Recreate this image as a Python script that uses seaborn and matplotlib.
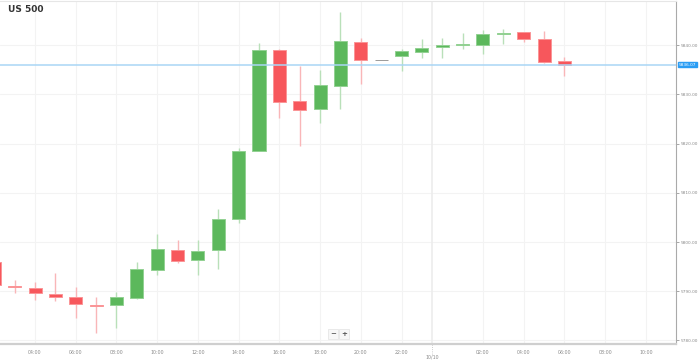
import matplotlib.pyplot as plt
import matplotlib.transforms as mtransforms
import seaborn as sns

# hourly candles, hours counted from 09/10 00:00
hours = list(range(2, 31))
opens = [5796.0, 5791.1, 5790.7, 5789.4, 5788.9, 5787.1, 5787.1, 5788.6, 5794.4, 5798.4,
         5796.3, 5798.3, 5804.6, 5818.5, 5839.1, 5828.6, 5827.0, 5831.8, 5840.7, 5837.0,
         5837.8, 5838.6, 5839.6, 5840.0, 5840.1, 5842.3, 5842.7, 5841.2, 5836.8]
highs = [5796.6, 5792.3, 5791.9, 5793.8, 5790.8, 5788.8, 5789.8, 5796.0, 5801.6, 5800.5,
         5800.5, 5806.8, 5819.2, 5840.5, 5839.2, 5835.8, 5835.0, 5846.7, 5841.4, 5837.0,
         5839.3, 5841.3, 5841.5, 5842.4, 5843.0, 5843.3, 5842.7, 5842.9, 5837.6]
lows = [5790.8, 5789.6, 5788.3, 5788.1, 5784.5, 5781.6, 5782.6, 5788.5, 5793.3, 5795.8,
        5793.3, 5794.5, 5803.8, 5818.4, 5825.3, 5819.5, 5824.2, 5827.1, 5832.2, 5837.0,
        5834.8, 5837.3, 5837.3, 5839.2, 5838.2, 5840.2, 5840.7, 5836.3, 5833.8]
closes = [5791.3, 5790.8, 5789.6, 5788.8, 5787.3, 5787.0, 5788.8, 5794.5, 5798.5, 5796.2,
          5798.2, 5804.7, 5818.5, 5839.0, 5828.5, 5826.8, 5832.0, 5840.9, 5836.9, 5837.0,
          5838.8, 5839.4, 5840.0, 5840.2, 5842.2, 5842.5, 5841.2, 5836.6, 5836.07]
last_price = 5836.07

tick_hours = [4, 6, 8, 10, 12, 14, 16, 18, 20, 22, 26, 28, 30, 32, 34]
tick_labels = ['04:00', '06:00', '08:00', '10:00', '12:00', '14:00', '16:00', '18:00',
               '20:00', '22:00', '02:00', '04:00', '06:00', '08:00', '10:00']
price_ticks = [5780, 5790, 5800, 5810, 5820, 5830, 5840]
day_break = 23.5
day_label = '10/10'

sns.set_theme(style="white")
plt.rcParams['font.family'] = ['DejaVu Sans']

fig = plt.figure(figsize=(6.99, 3.63), dpi=100)
ax = fig.add_axes([0, 19 / 363, 676 / 699, 343 / 363])

body_col, edge_col, wick_col = [], [], []
for o, c in zip(opens, closes):
    if c > o:
        body_col.append('#5cb85c'); edge_col.append('#93d193'); wick_col.append('#b9e0b9')
    elif c < o:
        body_col.append('#f7575c'); edge_col.append('#fb9597'); wick_col.append('#f9b6b8')
    else:
        body_col.append('#9a9a9a'); edge_col.append('#9a9a9a'); wick_col.append('#9a9a9a')

bottoms = [min(o, c) for o, c in zip(opens, closes)]
heights = [abs(c - o) for o, c in zip(opens, closes)]

ax.vlines(hours, lows, highs, colors=wick_col, lw=1, zorder=2)
ax.bar(hours, heights, bottom=bottoms, width=0.64, color=body_col,
       edgecolor=edge_col, linewidth=0.7, zorder=3)

ax.axhline(last_price, color='#a9d6f5', lw=1.1, zorder=4)
ax.axvline(day_break, color='#ececec', lw=1.2, zorder=1)

ax.set_xlim(2.28, 35.48)
ax.set_ylim(5779.27, 5848.98)
ax.set_xticks(tick_hours)
ax.set_xticklabels(tick_labels)
ax.set_yticks(price_ticks)
ax.set_yticklabels(['%.2f' % p for p in price_ticks])
ax.yaxis.tick_right()
ax.grid(True, color='#f3f3f3', lw=0.8, zorder=0)
ax.set_axisbelow(True)

ax.tick_params(axis='x', length=2, width=0.6, color='#bbbbbb', labelsize=3.4,
               labelcolor='#8a8a8a', pad=2)
ax.tick_params(axis='y', length=2, width=0.6, color='#999999', labelsize=3.1,
               labelcolor='#8a8a8a', pad=1.0, right=True)

ax.spines['left'].set_visible(False)
ax.spines['top'].set_color('#e6e6e6')
ax.spines['top'].set_linewidth(0.8)
ax.spines['right'].set_color('#aaaaaa')
ax.spines['right'].set_linewidth(0.8)
ax.spines['bottom'].set_color('#cfcfcf')
ax.spines['bottom'].set_linewidth(1.6)

# price tag on the right axis
tr = mtransforms.blended_transform_factory(ax.transAxes, ax.transData)
ax.text(1.004, last_price, '%.2f' % last_price, transform=tr, fontsize=3.1,
        color='white', va='center', ha='left',
        bbox=dict(boxstyle='square,pad=0.2', fc='#2a9df4', ec='#2a9df4'))

# date label under the axis
trd = mtransforms.blended_transform_factory(ax.transData, fig.transFigure)
ax.text(day_break, 1 - 357 / 363, day_label, transform=trd, fontsize=3.4,
        color='#8a8a8a', ha='center', va='center')
ax.vlines(day_break, -0.03, 0, transform=ax.get_xaxis_transform(),
          colors='#bbbbbb', lw=0.6, linestyles=':', clip_on=False)

fig.text(8 / 699, 1 - 10 / 363, 'US 500', fontsize=6.5, fontweight='bold',
         color='#333333', va='center', ha='left')

# zoom buttons
for xp, s in [(333, '\u2212'), (344, '+')]:
    fig.text(xp / 699, 1 - 334 / 363, s, fontsize=5, fontweight='bold', color='#555555',
             ha='center', va='center',
             bbox=dict(boxstyle='square,pad=0.3', fc='#f7f7f7', ec='#e2e2e2', lw=0.5))

fig.savefig('out.png', dpi=100)
